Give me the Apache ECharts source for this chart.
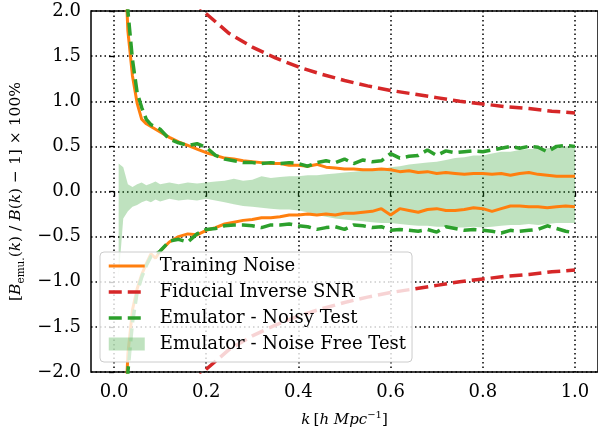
<!DOCTYPE html>
<html>
<head>
<meta charset="utf-8">
<script src="https://cdn.jsdelivr.net/npm/echarts@6/dist/echarts.min.js"></script>
<style>html,body{margin:0;padding:0;background:#fff}#c{width:598px;height:436px}</style>
</head>
<body>
<div id="c"></div>
<script>
const kGrid = [0.01,0.02,0.03,0.04,0.05,0.06,0.07,0.08,0.09,0.10,
  0.12,0.14,0.16,0.18,0.20,0.22,0.24,0.26,0.28,0.30,
  0.32,0.34,0.36,0.38,0.40,0.42,0.44,0.46,0.48,0.50,
  0.52,0.54,0.56,0.58,0.60,0.62,0.64,0.66,0.68,0.70,
  0.72,0.74,0.76,0.78,0.80,0.82,0.84,0.86,0.88,0.90,
  0.92,0.94,0.96,0.98,1.00];
const trainUp = [6.0,3.0,1.78,1.28,0.98,0.80,0.75,0.72,0.69,0.66,
  0.60,0.55,0.51,0.47,0.43,0.40,0.37,0.36,0.34,0.33,
  0.32,0.31,0.31,0.29,0.29,0.28,0.30,0.27,0.26,0.25,
  0.25,0.24,0.24,0.25,0.24,0.22,0.23,0.21,0.22,0.20,
  0.21,0.20,0.19,0.20,0.20,0.19,0.20,0.18,0.20,0.21,
  0.19,0.18,0.17,0.17,0.17];
const trainLo = [-6.0,-3.0,-1.80,-1.31,-1.08,-0.92,-0.80,-0.69,-0.74,-0.66,
  -0.56,-0.50,-0.47,-0.48,-0.43,-0.40,-0.36,-0.34,-0.32,-0.31,
  -0.29,-0.29,-0.28,-0.26,-0.26,-0.25,-0.26,-0.25,-0.26,-0.24,
  -0.24,-0.23,-0.22,-0.19,-0.26,-0.19,-0.21,-0.23,-0.20,-0.19,
  -0.21,-0.21,-0.20,-0.18,-0.19,-0.22,-0.19,-0.16,-0.16,-0.17,
  -0.17,-0.18,-0.17,-0.16,-0.17];
const noisyUp = [6.5,3.5,2.0,1.46,1.10,0.93,0.80,0.74,0.72,0.69,
  0.58,0.54,0.51,0.53,0.49,0.40,0.36,0.34,0.32,0.32,
  0.31,0.32,0.31,0.32,0.31,0.28,0.32,0.34,0.32,0.36,
  0.31,0.35,0.33,0.34,0.42,0.37,0.39,0.40,0.46,0.40,
  0.45,0.43,0.44,0.45,0.44,0.46,0.48,0.50,0.48,0.50,
  0.49,0.44,0.50,0.51,0.50];
const noisyLo = [-6.5,-3.5,-2.0,-1.45,-1.12,-0.95,-0.82,-0.72,-0.70,-0.66,
  -0.55,-0.53,-0.56,-0.47,-0.42,-0.41,-0.38,-0.37,-0.37,-0.38,
  -0.40,-0.37,-0.37,-0.36,-0.38,-0.39,-0.42,-0.40,-0.39,-0.42,
  -0.37,-0.38,-0.40,-0.39,-0.43,-0.42,-0.43,-0.44,-0.42,-0.45,
  -0.39,-0.41,-0.43,-0.42,-0.43,-0.44,-0.46,-0.43,-0.44,-0.43,
  -0.42,-0.38,-0.41,-0.44,-0.46];
const freeUp = [0.31,0.27,0.08,0.05,0.08,0.10,0.07,0.09,0.11,0.08,
  0.10,0.08,0.10,0.09,0.10,0.11,0.12,0.14,0.12,0.13,
  0.17,0.15,0.16,0.17,0.17,0.18,0.18,0.19,0.20,0.21,
  0.22,0.23,0.24,0.25,0.27,0.28,0.30,0.31,0.32,0.33,
  0.35,0.37,0.38,0.40,0.40,0.42,0.44,0.44,0.46,0.47,
  0.47,0.48,0.49,0.50,0.51];
const freeLo = [-0.95,-0.30,-0.22,-0.17,-0.15,-0.12,-0.10,-0.12,-0.09,-0.11,
  -0.08,-0.10,-0.09,-0.10,-0.08,-0.10,-0.12,-0.14,-0.16,-0.17,
  -0.18,-0.19,-0.20,-0.20,-0.21,-0.23,-0.26,-0.28,-0.30,-0.31,
  -0.32,-0.33,-0.34,-0.35,-0.35,-0.36,-0.37,-0.38,-0.38,-0.39,
  -0.39,-0.40,-0.40,-0.39,-0.40,-0.39,-0.38,-0.37,-0.37,-0.36,
  -0.37,-0.36,-0.35,-0.35,-0.35];
const redK = [0.17,0.20,0.25,0.30,0.35,0.40,0.45,0.50,0.55,0.60,0.65,0.70,0.75,0.80,0.85,0.90,0.95,1.00];
const redUp = [2.12,1.97,1.75,1.60,1.48,1.38,1.30,1.23,1.17,1.12,1.08,1.04,1.00,0.97,0.94,0.92,0.89,0.87];
const redLo = [-2.12,-1.97,-1.75,-1.60,-1.48,-1.38,-1.30,-1.23,-1.17,-1.12,-1.08,-1.04,-1.00,-0.97,-0.94,-0.92,-0.89,-0.87];
const xTicks = [0.0,0.2,0.4,0.6,0.8,1.0];
const yTicks = [-2.0,-1.5,-1.0,-0.5,0.0,0.5,1.0,1.5,2.0];
const names = ['Training Noise','Fiducial Inverse SNR','Emulator - Noisy Test','Emulator - Noise Free Test'];

const pair = (xs, ys) => xs.map((x, i) => [x, ys[i]]);
const FONT = 'DejaVu Serif';
const fmt = v => v.toFixed(1).replace('-', '\u2212');
const ORANGE = '#ff7f0e', RED = '#d62728', GREEN = '#2ca02c', BAND = 'rgba(44,160,44,0.3)';
const DASH = [13, 6];

function line(name, data, color, width, dash, z) {
  return {
    type: 'line', name, data, showSymbol: false, symbol: 'none', z,
    lineStyle: { color, width, type: dash || 'solid', cap: 'butt' },
    itemStyle: { color }, silent: true, animation: false, clip: true
  };
}

const bandData = kGrid.map((k, i) => [k, freeUp[i], freeLo[i]]);

function renderBand(params, api) {
  if (params.dataIndex !== 0) return null;
  const top = bandData.map(d => api.coord([d[0], d[1]]));
  const bot = bandData.map(d => api.coord([d[0], d[2]])).reverse();
  return {
    type: 'polygon',
    shape: { points: top.concat(bot) },
    style: { fill: BAND, stroke: null },
    silent: true
  };
}

const chart = echarts.init(document.getElementById('c'), null, { renderer: 'canvas' });
chart.setOption({
  backgroundColor: '#fff',
  animation: false,
  grid: { left: 91, top: 11, right: -2, bottom: 64, show: true, borderColor: '#000', borderWidth: 1.5, backgroundColor: 'transparent' },
  xAxis: {
    type: 'value', min: -0.05, max: 1.05,
    axisLine: { show: false },
    axisTick: { show: true, customValues: xTicks, length: 5, lineStyle: { color: '#000', width: 1.3 } },
    axisLabel: { customValues: xTicks, formatter: fmt, fontFamily: FONT, fontSize: 18, color: '#000', margin: 11 },
    splitLine: { show: true, lineStyle: { color: '#000', width: 1.5, type: [1.5, 3] } },
    name: '{i|k} {n|[}{i|h Mpc}{sup|\u22121}{n|]}',
    nameLocation: 'middle', nameGap: 38,
    nameTextStyle: {
      rich: {
        i: { fontFamily: FONT, fontStyle: 'italic', fontSize: 15, lineHeight: 20, color: '#000' },
        n: { fontFamily: FONT, fontSize: 15, lineHeight: 20, color: '#000' },
        sup: { fontFamily: FONT, fontSize: 10, lineHeight: 10, verticalAlign: 'top', color: '#000' }
      }
    }
  },
  yAxis: {
    type: 'value', min: -2, max: 2, interval: 0.5,
    axisLine: { show: false },
    axisTick: { show: true, length: 5, lineStyle: { color: '#000', width: 1.3 } },
    axisLabel: { customValues: yTicks, formatter: fmt, fontFamily: FONT, fontSize: 18, color: '#000', margin: 10 },
    splitLine: { show: true, lineStyle: { color: '#000', width: 1.5, type: [1.5, 3] } },
    name: '{n|[}{i|B}{s|emu.}{n|(}{i|k}{n|) / }{i|B}{n|(}{i|k}{n|) \u2212 1] \u00d7 100%}',
    nameLocation: 'middle', nameGap: 63, nameRotate: 90,
    nameTextStyle: {
      rich: {
        i: { fontFamily: FONT, fontStyle: 'italic', fontSize: 15.5, lineHeight: 20, color: '#000' },
        n: { fontFamily: FONT, fontSize: 15.5, lineHeight: 20, color: '#000' },
        s: { fontFamily: FONT, fontSize: 10.5, lineHeight: 10, verticalAlign: 'bottom', color: '#000' }
      }
    }
  },
  legend: {
    left: 100, top: 252, orient: 'vertical',
    backgroundColor: 'rgba(255,255,255,0.8)', borderColor: '#cccccc', borderWidth: 1, borderRadius: 4,
    padding: [4, 6, 8, 7], itemGap: 6, itemWidth: 36, itemHeight: 13,
    itemStyle: { opacity: 0 },
    textStyle: { fontFamily: FONT, fontSize: 18, color: '#000', lineHeight: 20, padding: [0, 0, 0, 10] },
    selectedMode: false,
    data: [
      { name: names[0], lineStyle: { width: 3, color: ORANGE, type: 'solid' } },
      { name: names[1], lineStyle: { width: 3.5, color: RED, type: DASH } },
      { name: names[2], lineStyle: { width: 3.5, color: GREEN, type: DASH } },
      { name: names[3], icon: 'rect', itemStyle: { color: BAND, borderWidth: 0, opacity: 1 } }
    ]
  },
  series: [
    {
      type: 'custom', name: names[3], data: bandData, renderItem: renderBand,
      encode: { x: 0, y: [1, 2] }, itemStyle: { color: BAND }, clip: true, silent: true, z: 1
    },
    line(names[0], pair(kGrid, trainUp), ORANGE, 3, null, 2),
    line(names[0], pair(kGrid, trainLo), ORANGE, 3, null, 2),
    line(names[1], pair(redK, redUp), RED, 3.5, DASH, 2),
    line(names[1], pair(redK, redLo), RED, 3.5, DASH, 2),
    line(names[2], pair(kGrid, noisyUp), GREEN, 3.5, DASH, 2),
    line(names[2], pair(kGrid, noisyLo), GREEN, 3.5, DASH, 2)
  ]
});
</script>
</body>
</html>
